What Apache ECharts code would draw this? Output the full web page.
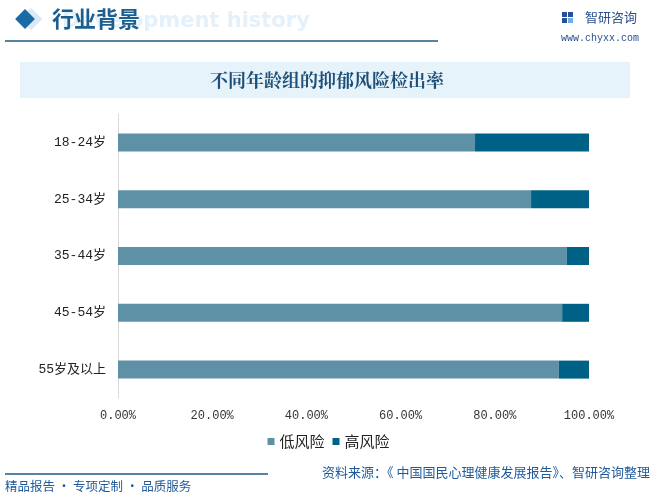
<!DOCTYPE html>
<html><head><meta charset="utf-8">
<script src="https://cdn.jsdelivr.net/npm/echarts@6/dist/echarts.min.js"></script>
<style>html,body{margin:0;padding:0;background:#fff}#c{width:657px;height:504px}</style>
</head><body><div id="c"></div>
<script>
var categories = ['18-24岁', '25-34岁', '35-44岁', '45-54岁', '55岁及以上'];
var lowRisk = [0.758, 0.877, 0.953, 0.943, 0.936];
var highRisk = [0.242, 0.123, 0.047, 0.057, 0.064];
var seriesNames = ['低风险', '高风险'];
var xTicks = [0, 0.2, 0.4, 0.6, 0.8, 1.0];

var chart = echarts.init(document.getElementById('c'));
var mono = '"Liberation Mono","DejaVu Sans Mono","Noto Sans CJK SC",monospace';
var cjk = '"Noto Sans CJK SC","Noto Sans",sans-serif';
chart.setOption({
  backgroundColor: '#fff',
  animation: false,
  graphic: [
    {type:'text', left:62, top:11, z:0, style:{text:'Development history', fill:'#e4f0fa', font:'bold 21px "DejaVu Sans",sans-serif'}},
    {type:'rect', shape:{x:-8,y:-8,width:16,height:16}, x:31, y:19, rotation:Math.PI/4, z:0, style:{fill:'#dce9f4'}},
    {type:'rect', shape:{x:-7,y:-7,width:14,height:14}, x:25, y:19, rotation:Math.PI/4, style:{fill:'#1a6aa6'}},
    {type:'text', left:52, top:8, z:5, style:{text:'行业背景', fill:'#1c5f8e', font:'bold 22px "Noto Sans CJK SC",sans-serif'}},
    {type:'line', shape:{x1:5,y1:41,x2:438,y2:41}, style:{stroke:'#1f5880', lineWidth:1.5}},
    {type:'rect', shape:{x:562,y:12,width:5,height:5}, style:{fill:'#2a4f9a'}},
    {type:'rect', shape:{x:568,y:12,width:5,height:5}, style:{fill:'#2a4f9a'}},
    {type:'rect', shape:{x:562,y:18,width:5,height:5}, style:{fill:'#2a4f9a'}},
    {type:'rect', shape:{x:568,y:18,width:5,height:5}, style:{fill:'#6ab0e0'}},
    {type:'text', left:585, top:11, style:{text:'智研咨询', fill:'#2b4f8c', font:'13px "Noto Sans CJK SC",sans-serif'}},
    {type:'text', left:561, top:33, style:{text:'www.chyxx.com', fill:'#2b4f8c', font:'10px "Liberation Mono",monospace'}},
    {type:'rect', shape:{x:20,y:62,width:610,height:36}, style:{fill:'#e6f3fb'}},
    {type:'text', x:327, y:80, style:{text:'不同年龄组的抑郁风险检出率', fill:'#1d4f77', font:'bold 18px "Noto Serif CJK SC","Noto Sans CJK SC",serif', align:'center', verticalAlign:'middle'}},
    {type:'line', shape:{x1:5,y1:474,x2:268,y2:474}, style:{stroke:'#1f5880', lineWidth:1.5}},
    {type:'text', left:5, top:480, style:{text:'精品报告 · 专项定制 · 品质服务', fill:'#1f5a9a', font:'12.5px "Noto Sans CJK SC",sans-serif'}},
    {type:'text', right:7, top:466, style:{text:'资料来源：《 中国国民心理健康发展报告》、智研咨询整理', fill:'#1f5a9a', font:'13px "Noto Sans CJK SC",sans-serif'}}
  ],
  legend: {
    data: seriesNames, bottom: 50, left: 'center', itemWidth: 7, itemHeight: 7, itemGap: 8,
    icon: 'rect', textStyle: {fontSize: 15, color: '#222', fontFamily: cjk}
  },
  grid: {left: 118, right: 68, top: 114, bottom: 106, containLabel: false},
  xAxis: {
    type: 'value', min: 0, max: 1, interval: 0.2,
    axisLine: {show: false}, axisTick: {show: false}, splitLine: {show: false},
    axisLabel: {margin: 12, color: '#333', fontSize: 12, fontFamily: mono,
      formatter: function(v){ return (v*100).toFixed(2) + '%'; }}
  },
  yAxis: {
    type: 'category', data: categories, inverse: true,
    axisLine: {show: true, lineStyle: {color: '#d9d9d9'}}, axisTick: {show: false},
    axisLabel: {margin: 12, color: '#222', fontSize: 13, fontFamily: mono}
  },
  series: [
    {name: seriesNames[0], type: 'bar', stack: 'a', data: lowRisk, barWidth: 18, itemStyle: {color: '#5e90a6'}},
    {name: seriesNames[1], type: 'bar', stack: 'a', data: highRisk, barWidth: 18, itemStyle: {color: '#006187'}}
  ]
});
</script></body></html>
